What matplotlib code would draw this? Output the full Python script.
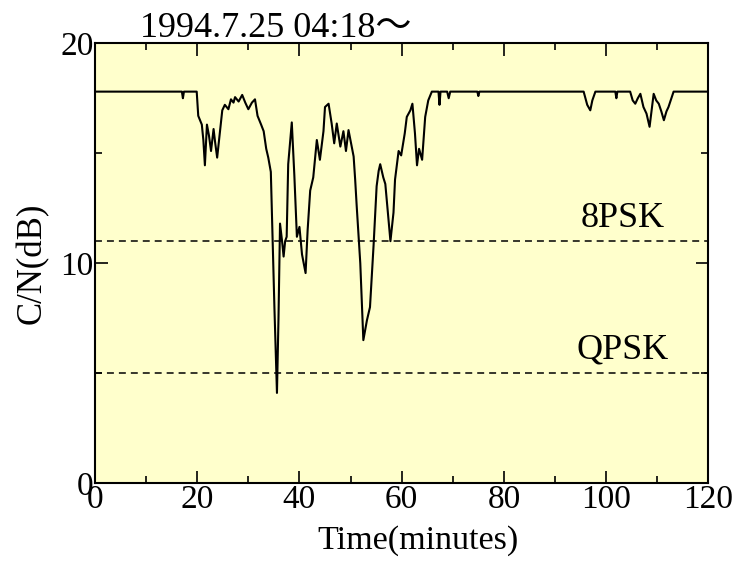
import matplotlib
matplotlib.use("Agg")
import matplotlib.pyplot as plt
from matplotlib.ticker import MultipleLocator

# C/N trace (minutes, dB)
tiempo = [0, 17.0, 17.2, 17.4, 19.9, 20.2, 20.9, 21.2, 21.5, 21.9, 22.3, 22.7, 23.2,
          23.5, 23.9, 24.5, 24.9, 25.4, 26.1, 26.6, 27.1, 27.4, 28.1, 28.8, 29.4,
          30.0, 30.7, 31.3, 31.8, 32.5, 33.0, 33.5, 33.9, 34.4, 34.7, 35.1, 35.6,
          35.9, 36.2, 36.6, 36.9, 37.2, 37.5, 37.8, 38.5, 39.0, 39.5, 40.0, 40.5,
          41.2, 41.6, 42.1, 42.7, 43.4, 44.0, 44.7, 45.0, 45.7, 46.3, 46.8, 47.3,
          48.0, 48.6, 49.1, 49.6, 50.1, 50.6, 50.9, 51.2, 51.9, 52.5, 53.2, 53.8,
          54.5, 55.1, 55.5, 55.8, 56.4, 56.8, 57.3, 57.8, 58.4, 58.7, 59.4, 59.9,
          60.6, 61.0, 61.7, 62.1, 62.6, 63.0, 63.4, 64.0, 64.6, 65.2, 65.9, 67.2,
          67.4, 67.6, 68.9, 69.2, 69.5, 74.8, 75.0, 75.2, 95.6, 96.3, 96.9, 97.3,
          97.9, 101.8, 102.0, 102.2, 104.7, 105.2, 105.7, 106.2, 106.7, 107.3,
          107.9, 108.5, 109.3, 109.8, 110.3, 110.8, 111.3, 111.8, 112.2, 113.2, 120]
cn_db = [17.8, 17.8, 17.5, 17.8, 17.8, 16.7, 16.3, 15.6, 14.45, 16.3, 15.8, 15.1, 16.1,
         15.5, 14.8, 16.1, 16.95, 17.2, 17.0, 17.45, 17.3, 17.55, 17.35, 17.65, 17.3,
         17.0, 17.3, 17.45, 16.7, 16.3, 16.0, 15.2, 14.8, 14.15, 11.5, 8.0, 4.1,
         7.5, 11.8, 11.0, 10.3, 11.0, 11.2, 14.5, 16.4, 14.0, 11.2, 11.65, 10.4,
         9.55, 11.5, 13.3, 13.9, 15.6, 14.7, 16.0, 17.1, 17.25, 16.35, 15.45, 16.35,
         15.3, 16.0, 15.1, 16.05, 15.45, 14.85, 13.8, 12.6, 10.0, 6.5, 7.4, 8.0,
         10.8, 13.5, 14.2, 14.5, 13.9, 13.6, 12.3, 11.0, 12.3, 13.8, 15.1, 14.9,
         15.9, 16.65, 16.95, 17.25, 15.9, 14.45, 15.2, 14.7, 16.65, 17.4, 17.8, 17.8,
         17.2, 17.8, 17.8, 17.5, 17.8, 17.8, 17.6, 17.8, 17.8, 17.2, 16.95, 17.4,
         17.8, 17.8, 17.5, 17.8, 17.8, 17.4, 17.25, 17.5, 17.7, 17.1,
         16.8, 16.2, 17.7, 17.4, 17.25, 16.9, 16.5, 16.9, 17.1, 17.8, 17.8]

# required C/N thresholds
umbrales = [11.0, 5.0]
nombres = ["8PSK", "QPSK"]

plt.rcParams['font.family'] = ['Liberation Serif', 'Noto Sans CJK JP']
plt.rcParams['lines.scale_dashes'] = False

fig = plt.figure(figsize=(7.48, 5.69), dpi=100)
ax = fig.add_axes([0.127, 0.151, 0.82, 0.773])
ax.set_facecolor('#ffffcc')

ax.plot(tiempo, cn_db, color='black', lw=1.5)
for u, n in zip(umbrales, nombres):
    ax.axhline(u, color='black', lw=1.1, dashes=(5, 3.6))
    ax.text(103.2, u + 0.3, n, ha='center', va='bottom', fontsize=26)

ax.set_xlim(0, 120)
ax.set_ylim(0, 20)
ax.xaxis.set_major_locator(MultipleLocator(20))
ax.xaxis.set_minor_locator(MultipleLocator(10))
ax.yaxis.set_major_locator(MultipleLocator(10))
ax.yaxis.set_minor_locator(MultipleLocator(5))
ax.tick_params(which='both', direction='in', top=True, right=True, width=1.2, labelsize=24)
ax.tick_params(which='major', length=9)
ax.tick_params(which='minor', length=5)
ax.tick_params(axis='x', pad=1)
ax.tick_params(axis='y', pad=1)
for s in ax.spines.values():
    s.set_linewidth(1.5)

ax.set_xlabel("Time(minutes)", fontsize=24.5)
ax.xaxis.set_label_coords(0.527, -0.095)
ax.set_ylabel("C/N(dB)", fontsize=25)
ax.yaxis.set_label_coords(-0.075, 0.5)
ax.text(0.073, 0.995, "1994.7.25 04:18〜", transform=ax.transAxes,
        fontsize=26, ha='left', va='bottom')

fig.savefig("out.png", dpi=100)
